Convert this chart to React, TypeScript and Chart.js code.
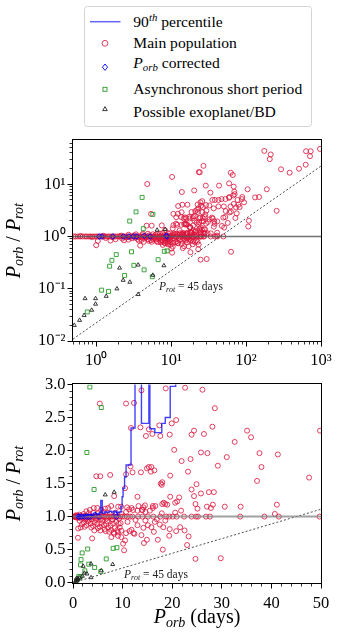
import React, { useEffect, useRef } from 'react';
import { Chart, registerables } from 'chart.js';
Chart.register(...registerables);

const FONT = '"Liberation Serif", "Times New Roman", serif';

// ---------- DATA (Porb [days], Porb/Prot) ----------
const mainPopulation: [number, number][] = [
  // long period / high ratio (top panel only)
  [175, 43.4], [213, 37.1], [207, 30.2], [631, 42.8], [728, 42.8], [713, 34.4], [970, 47.4], [293, 19.3], [382, 16.6], [509, 19.8], [625, 23.6],
  [27, 22.5], [24.1, 16.9], [62.5, 16.6], [66.5, 15.0], [20.3, 7.6], [29, 9.4], [43.6, 9.4], [59.3, 10.4], [68.5, 9.0], [105, 8.0], [189, 8.0],
  [33.4, 6.9], [69.6, 7.2], [70.5, 6.45], [67.5, 6.1], [60, 5.7], [89, 5.7], [88, 5.2], [77, 5.0], [132, 5.6], [149, 5.7], [94, 4.5],
  [35.5, 5.0], [38.4, 5.0], [42.8, 5.0], [47, 5.2], [53, 5.2], [59.3, 5.5], [68.5, 4.2], [79, 4.05], [82, 3.66], [73.6, 3.6], [62, 3.76],
  [62.8, 2.98], [60, 2.89], [53.5, 3.07], [50.5, 3.76], [42.8, 3.76], [37, 3.45], [32.4, 3.93], [29.2, 4.0], [26.5, 3.66], [25, 3.87],
  [22.6, 4.1], [24.6, 4.5], [26, 4.75], [22.2, 3.25], [256, 3.1], [109, 2.0], [107, 1.55], [52.8, 2.36], [72, 2.26], [75, 2.77], [57, 1.82],
  [51, 1.48], [63, 0.51], [29.5, 3.1], [10.3, 13.8], [4.8, 10.1], [23.4, 17.1], [13.9, 7.1], [16.5, 4.05], [14.1, 4.05], [12.4, 3.83], [21, 3.07], [23, 3.45],
  // upper scatter, Porb < 50
  [18.7, 2.94], [13.8, 2.91], [22.6, 2.95], [26.1, 2.92], [28.6, 2.64], [5.4, 2.71], [10.7, 2.71], [12.3, 2.72], [11.7, 2.34], [13.6, 2.35],
  [15.3, 2.32], [16.0, 2.25], [14.7, 2.22], [17.6, 2.22], [17.4, 2.38], [19.5, 2.24], [19.9, 2.41], [20.8, 2.46], [24.4, 2.30], [23.9, 2.24],
  [26.4, 2.25], [28.1, 2.36], [35.1, 2.30], [35.9, 2.20], [49.8, 2.30], [32.6, 2.13], [20.4, 2.01], [21.9, 1.84], [23.7, 1.87], [25.8, 1.97],
  [27.1, 1.96], [31.0, 1.90], [29.2, 1.77], [37.6, 1.96], [41.3, 1.94], [38.0, 1.75], [37.1, 1.54], [47.6, 1.59], [23.2, 1.68], [19.6, 1.62],
  [11.6, 1.76], [12.0, 1.67], [13.7, 1.67], [14.9, 1.73], [15.3, 1.75], [15.8, 1.75], [16.4, 1.70], [15.7, 1.68], [10.7, 1.64], [4.7, 1.61],
  [5.5, 1.61], [7.5, 1.63], [10.5, 1.43], [17.7, 1.50], [18.0, 1.52], [17.9, 1.48], [13.0, 1.30], [19.6, 1.30], [21.4, 1.29], [21.0, 1.23],
  [24.7, 1.19], [24.4, 1.31], [24.9, 1.49], [23.9, 1.41], [25.8, 1.35], [27.4, 1.37], [28.4, 1.37], [8.3, 1.31], [27.0, 1.15], [27.8, 1.13],
  [28.2, 1.18], [30.6, 1.15], [33.8, 1.15], [41.1, 1.18], [18.0, 1.19], [18.6, 1.19], [16.1, 1.16], [16.1, 1.13], [14.0, 1.10], [14.5, 1.17],
  [17.9, 1.05], [20.6, 1.06], [21.8, 1.09], [25.1, 1.12], [40.7, 1.04], [16.6, 1.16], [18.3, 1.21], [19.0, 1.18], [20.6, 1.21], [10.9, 1.14],
  [11.3, 1.11], [11.8, 1.13], [10.7, 1.07], [12.1, 1.10], [13.0, 1.09], [13.9, 1.10], [14.6, 1.07], [15.5, 1.09], [13.2, 1.16], [14.2, 1.14],
  [9.1, 1.15], [9.7, 1.15], [7.1, 1.13], [7.7, 1.16], [6.5, 1.12], [5.7, 1.10], [4.9, 1.13], [4.2, 1.13], [3.4, 1.10], [2.7, 1.08],
  // synchronised band
  [0.27, 1], [0.33, 1], [0.38, 1], [0.44, 1], [0.5, 1], [0.53, 1.0], [0.57, 1], [0.61, 1], [0.66, 1], [0.71, 1], [0.75, 1], [0.8, 1],
  [0.84, 1], [0.9, 1], [0.96, 1], [1.02, 1], [1.07, 1], [1.14, 1], [1.21, 1], [1.27, 1], [1.35, 1], [1.44, 1], [1.52, 1], [1.61, 1],
  [1.7, 1], [1.79, 1], [1.91, 1], [2.02, 1], [2.12, 1], [2.26, 1], [2.38, 1], [2.51, 1], [2.64, 1], [2.81, 1], [2.95, 1], [3.12, 1],
  [3.31, 1], [3.47, 1], [3.67, 1], [3.84, 1], [4.06, 1], [4.25, 1], [4.49, 1], [4.71, 1], [4.94, 1], [5.21, 1], [5.45, 1], [5.74, 1],
  [6.02, 1], [6.28, 1], [6.61, 1], [6.93, 1], [7.24, 1], [7.62, 1], [7.94, 1], [8.31, 1], [8.72, 1], [9.08, 1], [9.52, 1], [9.93, 1],
  [10.4, 1], [10.9, 1], [11.5, 1], [12.0, 1], [13.1, 1], [14.0, 1], [15.1, 1], [16.2, 1], [17.6, 1], [18.8, 1], [19.4, 1], [20.1, 1],
  [20.9, 1], [22.4, 1], [23.9, 1], [24.8, 1], [25.2, 1], [26.8, 1], [27.6, 1], [33.7, 1], [38.6, 1], [41.5, 1], [49.7, 1],
  [0.62, 1.02], [0.88, 0.98], [1.25, 1.03], [1.65, 0.97], [2.15, 1.04], [2.7, 0.97], [3.2, 1.05], [3.75, 0.96], [4.15, 1.06], [4.6, 0.97],
  [5.1, 1.05], [5.6, 0.96], [6.2, 1.07], [6.75, 0.97], [7.4, 1.04], [8.0, 0.96], [8.6, 1.06], [9.3, 0.97], [9.8, 1.04],
  // sub-synchronous clump
  [1.34, 0.936], [1.81, 0.886], [2.22, 0.911], [2.69, 0.871], [3.02, 0.926], [3.56, 0.896], [4.03, 0.861], [4.37, 0.911], [4.91, 0.886],
  [5.38, 0.846], [5.71, 0.901], [6.25, 0.871], [6.72, 0.886], [7.06, 0.836], [7.59, 0.861], [8.06, 0.896], [8.40, 0.826], [8.94, 0.797],
  [9.41, 0.836], [9.74, 0.786], [9.07, 0.762], [7.73, 0.797], [6.38, 0.811], [5.04, 0.826], [3.70, 0.836], [2.35, 0.846], [1.55, 0.836],
  [4.6, 0.95], [5.9, 0.94], [6.9, 0.93], [7.9, 0.95], [8.7, 0.92], [9.2, 0.89], [3.3, 0.95], [2.5, 0.96], [6.6, 0.78], [7.3, 0.77],
  [8.2, 0.76], [5.5, 0.79], [9.6, 0.90], [4.3, 0.79],
  // lower scatter
  [7.73, 0.69], [9.07, 0.71], [9.74, 0.69], [10.7, 0.75], [11.8, 0.80], [12.4, 0.74], [14.3, 0.60], [17.1, 0.65], [15.8, 0.84], [1.05, 0.82],
  [1.0, 0.68], [3.86, 0.67], [16.5, 0.92], [17.5, 0.88], [18.6, 0.94], [15.1, 0.87], [13.0, 0.87], [14.2, 0.83], [11.4, 0.78], [12.2, 0.75],
  [13.8, 0.72], [16.3, 0.77], [14.9, 0.65], [18.2, 0.84], [18.1, 0.50], [10.5, 0.64], [10.1, 0.59], [8.3, 0.74], [24.7, 0.36], [29.8, 0.37],
  [19.4, 0.71], [20.8, 0.78], [22.5, 0.79], [23.3, 0.70], [23.0, 0.57], [10.3, 0.49], [19.5, 0.81], [21.6, 0.84], [11.0, 0.92], [12.6, 0.95],
  [14.6, 0.94], [16.9, 0.96],
];

const porbCorrected: [number, number][] = [
  [1.10, 1.0], [1.19, 1.0], [1.67, 1.0], [2.31, 1.0], [2.73, 1.0], [3.14, 1.0], [3.49, 1.0], [4.4, 1.03], [5.25, 1.0], [8.6, 1.03], [8.8, 1.0],
];

const asyncShortPeriod: [number, number][] = [
  [4.1, 5.6], [3.4, 2.96], [2.8, 1.97], [5.7, 2.65], [4.25, 1.41], [1.85, 0.45], [2.96, 0.51], [1.51, 0.27], [1.62, 0.35], [3.18, 0.28],
  [2.39, 0.18], [4.36, 0.23], [6.7, 0.36], [8.1, 0.52], [8.85, 0.53], [5.6, 0.17], [1.18, 0.094], [1.46, 0.089], [0.76, 0.036],
];

const exoplanetBD: [number, number][] = [
  [6.5, 1.33], [8.3, 1.37], [2.05, 0.25], [2.29, 0.146], [2.81, 0.134], [3.63, 0.286], [5.7, 0.182], [8.0, 0.277], [1.89, 0.10],
  [1.36, 0.072], [0.98, 0.065], [0.98, 0.051], [0.71, 0.065], [0.87, 0.039], [0.69, 0.031], [0.60, 0.025], [3.63, 0.078], [0.51, 0.020],
];

const percentile90: [number, number][] = [
  [0.7, 1.0], [1.2, 1.01], [1.8, 1.01], [2.4, 1.02], [3.0, 1.03], [3.6, 1.02], [4.2, 1.04], [4.8, 1.04], [5.3, 1.06], [5.6, 1.245],
  [5.9, 1.05], [6.4, 1.07], [6.9, 1.06], [7.3, 1.08], [7.8, 1.07], [8.3, 1.08], [8.8, 1.06], [9.3, 1.07], [9.7, 1.15], [9.9, 1.3],
  [10.1, 1.43], [10.4, 1.6], [10.7, 1.78], [11.7, 2.34], [12.5, 3.6], [13.8, 2.41], [15.3, 3.6], [15.5, 2.33], [16.5, 2.27], [17.9, 2.41],
  [18.6, 2.50], [19.6, 2.97], [20.7, 3.6], [22.0, 3.6],
];

const protLineTop: [number, number][] = [[0.49, 0.0109], [1000, 22.22]];
const protLineBottom: [number, number][] = [[0, 0], [50, 1.111]];
const unityTop: [number, number][] = [[0.49, 1], [1000, 1]];
const unityBottom: [number, number][] = [[0, 1], [50, 1]];

const topXTicks = [1, 10, 100, 1000];
const topXTickLabels = ['10⁰', '10¹', '10²', '10³'];
const topYTicks = [0.01, 0.1, 1, 10];
const topYTickLabels = ['10⁻²', '10⁻¹', '10⁰', '10¹'];
const bottomXTicks = [0, 10, 20, 30, 40, 50];
const bottomXTickLabels = ['0', '10', '20', '30', '40', '50'];
const bottomYTicks = [0, 0.5, 1, 1.5, 2, 2.5, 3];
const bottomYTickLabels = ['0.0', '0.5', '1.0', '1.5', '2.0', '2.5', '3.0'];

// ---------- helpers ----------
type Seg = { t: string; it?: boolean; sub?: boolean; sup?: boolean };

function drawRich(ctx: CanvasRenderingContext2D, segs: Seg[], x: number, y: number, size: number, align: 'left' | 'center', subDrop = 0.2) {
  const parts = segs.map((s) => {
    const fs = s.sub || s.sup ? size * 0.7 : size;
    ctx.font = `${s.it ? 'italic ' : ''}${fs}px ${FONT}`;
    return { s, fs, w: ctx.measureText(s.t).width };
  });
  const total = parts.reduce((a, p) => a + p.w, 0);
  let cx = align === 'center' ? x - total / 2 : x;
  ctx.textAlign = 'left';
  ctx.textBaseline = 'alphabetic';
  for (const p of parts) {
    ctx.font = `${p.s.it ? 'italic ' : ''}${p.fs}px ${FONT}`;
    const dy = p.s.sub ? size * subDrop : p.s.sup ? -size * 0.4 : 0;
    ctx.fillText(p.s.t, cx, y + dy);
    cx += p.w;
  }
}

const logMinor = (lo: number, hi: number) => {
  const out: number[] = [];
  for (let k = -3; k <= 3; k++) for (let m = 2; m <= 9; m++) {
    const v = m * Math.pow(10, k);
    if (v >= lo && v <= hi) out.push(v);
  }
  return out;
};
const linMinor = (lo: number, hi: number, step: number) => {
  const out: number[] = [];
  for (let v = lo; v <= hi + 1e-9; v += step) out.push(v);
  return out;
};

const yTitle: Seg[] = [{ t: 'P', it: true }, { t: 'orb', it: true, sub: true }, { t: ' / ' }, { t: 'P', it: true }, { t: 'rot', it: true, sub: true }];
const xTitle: Seg[] = [{ t: 'P', it: true }, { t: 'orb', it: true, sub: true }, { t: ' (days)' }];
const noteSegs: Seg[] = [{ t: 'P', it: true }, { t: 'rot', it: true, sub: true }, { t: ' = 45 days' }];

const decorPlugin = {
  id: 'decor',
  afterDatasetsDraw(chart: any, _a: any, opts: any) {
    const { ctx, chartArea: a, scales } = chart;
    const xs = scales.x, ys = scales.y;
    ctx.save();
    ctx.strokeStyle = '#000';
    ctx.fillStyle = '#000';
    const x0 = Math.round(a.left) - 0.5, x1 = Math.round(a.right) + 0.5;
    const y0 = Math.round(a.top) - 0.5, y1 = Math.round(a.bottom) + 0.5;
    ctx.lineWidth = 1;
    ctx.strokeRect(x0, y0, x1 - x0, y1 - y0);
    const tick = (vals: number[], len: number, axis: 'x' | 'y', lw: number) => {
      ctx.lineWidth = lw;
      ctx.beginPath();
      for (const v of vals) {
        if (axis === 'x') {
          const p = Math.floor(xs.getPixelForValue(v)) + 0.5;
          ctx.moveTo(p, y1); ctx.lineTo(p, y1 + len);
        } else {
          const p = Math.floor(ys.getPixelForValue(v)) + 0.5;
          ctx.moveTo(x0, p); ctx.lineTo(x0 - len, p);
        }
      }
      ctx.stroke();
    };
    tick(opts.xMajor, 5, 'x', 1);
    tick(opts.xMinor, 3, 'x', 0.8);
    tick(opts.yMajor, 5, 'y', 1);
    tick(opts.yMinor, 3, 'y', 0.8);
    // y title (rotated)
    ctx.save();
    ctx.translate(opts.yTitleX, (a.top + a.bottom) / 2);
    ctx.rotate(-Math.PI / 2);
    drawRich(ctx, yTitle, 0, 0, 20, 'center', 0.18);
    ctx.restore();
    if (opts.xTitleY) drawRich(ctx, xTitle, (a.left + a.right) / 2, opts.xTitleY, 20, 'center', 0.2);
    // annotation
    const nx = xs.getPixelForValue(opts.note[0]);
    const ny = ys.getPixelForValue(opts.note[1]);
    ctx.fillStyle = '#222';
    drawRich(ctx, noteSegs, nx, ny, 11.5, 'left', 0.2);
    ctx.restore();
  },
};

const pts = (arr: [number, number][]) => arr.map(([x, y]) => ({ x, y }));

const pointSets = () => [
  { label: 'Main population', data: pts(mainPopulation), pointStyle: 'circle', pointRadius: 2.5, borderColor: 'rgba(220,20,60,0.9)', backgroundColor: 'rgba(0,0,0,0)', borderWidth: 0.9, order: 5, clip: 0 },
  { label: 'Porb corrected', data: pts(porbCorrected), pointStyle: 'rectRot', pointRadius: 2.8, borderColor: '#0000ff', backgroundColor: 'rgba(0,0,0,0)', borderWidth: 1, order: 4, clip: 0 },
  { label: 'Asynchronous short period', data: pts(asyncShortPeriod), pointStyle: 'rect', pointRadius: 2.8, borderColor: '#2a9a2a', backgroundColor: 'rgba(0,0,0,0)', borderWidth: 0.9, order: 3, clip: 0 },
  { label: 'Possible exoplanet/BD', data: pts(exoplanetBD), pointStyle: 'triangle', pointRadius: 2.3, borderColor: '#222', backgroundColor: 'rgba(0,0,0,0)', borderWidth: 0.9, order: 2, clip: 0 },
];

const lineSet = (label: string, data: [number, number][], color: string, width: number, dash: number[], order: number, extra: any = {}) => ({
  label, data: pts(data), showLine: true, pointRadius: 0, borderColor: color, backgroundColor: color, borderWidth: width, borderDash: dash, order, clip: 0, tension: 0, ...extra,
});

const tickFont = { family: FONT, size: 16.5 };

function axis(type: string, min: number, max: number, ticks: number[], labels: string[], fit: (s: any) => void, pad: number) {
  return {
    type, min, max,
    afterBuildTicks: (s: any) => { s.ticks = ticks.map((v) => ({ value: v })); },
    afterFit: fit,
    grid: { display: false, drawTicks: true, tickLength: 5 },
    border: { display: false },
    ticks: { font: tickFont, color: '#000', padding: pad, maxRotation: 0, autoSkip: false, callback: (_v: any, i: number) => labels[i] },
  };
}

const TOP_H = 244;
const BOT_H = 266;

const topConfig = (): any => ({
  type: 'scatter',
  data: {
    datasets: [
      ...pointSets(),
      lineSet('Porb/Prot = 1', unityTop, 'rgba(90,90,90,0.85)', 1.3, [], 1),
      lineSet('Prot = 45 days', protLineTop, 'rgba(60,60,60,0.9)', 1, [2, 2], 1),
    ],
  },
  options: {
    animation: false, responsive: false, events: [],
    layout: { padding: { top: 11, right: 18, left: 0, bottom: 0 } },
    plugins: {
      legend: { display: false }, tooltip: { enabled: false },
      decor: {
        xMajor: topXTicks, xMinor: logMinor(0.49, 1000), yMajor: topYTicks, yMinor: logMinor(0.01, 69),
        yTitleX: 19.5, note: [6.9, 0.0944],
      },
    },
    scales: {
      x: axis('logarithmic', 0.49, 1000, topXTicks, topXTickLabels, (s) => { s.height = TOP_H - 213; }, 5),
      y: axis('logarithmic', 0.01, 69, topYTicks, topYTickLabels, (s) => { s.width = 73; }, 2.5),
    },
  },
  plugins: [decorPlugin],
});

const bottomConfig = (): any => ({
  type: 'scatter',
  data: {
    datasets: [
      ...pointSets(),
      lineSet('Porb/Prot = 1', unityBottom, 'rgba(130,130,130,0.75)', 2, [], 1),
      lineSet('Prot = 45 days', protLineBottom, 'rgba(60,60,60,0.9)', 1, [2, 2], 1),
      lineSet('90th percentile', percentile90, 'rgba(0,0,255,0.75)', 1.4, [], 0, { stepped: true }),
    ],
  },
  options: {
    animation: false, responsive: false, events: [],
    layout: { padding: { top: 9.7, right: 18, left: 0, bottom: 0 } },
    plugins: {
      legend: { display: false }, tooltip: { enabled: false },
      decor: {
        xMajor: bottomXTicks, xMinor: linMinor(0, 50, 2), yMajor: bottomYTicks, yMinor: linMinor(0, 3, 0.1),
        yTitleX: 19.5, xTitleY: 251, note: [10.3, 0.07],
      },
    },
    scales: {
      x: axis('linear', 0, 50, bottomXTicks, bottomXTickLabels, (s) => { s.height = BOT_H - 210.7; }, 6),
      y: axis('linear', 0, 3, bottomYTicks, bottomYTickLabels, (s) => { s.width = 73; }, 2.5),
    },
  },
  plugins: [decorPlugin],
});

function ChartBox({ config, top, height }: { config: () => any; top: number; height: number }) {
  const ref = useRef<HTMLCanvasElement>(null);
  useEffect(() => {
    const chart = new Chart(ref.current as HTMLCanvasElement, config());
    return () => chart.destroy();
  }, []);
  return (
    <canvas ref={ref} width={339} height={height}
      style={{ position: 'absolute', left: 0, top, width: 339, height, display: 'block' }} />
  );
}

function Legend() {
  const tx = 133.3;
  const fam = 'Liberation Serif, Times New Roman, serif';
  return (
    <svg width={339} height={130} style={{ position: 'absolute', left: 0, top: 0, fontFamily: fam }}>
      <rect x={84.5} y={6.5} width={227} height={120} rx={3} fill="#fff" stroke="#d4d4d4" strokeWidth={1} />
      <line x1={90} y1={21.7} x2={120.5} y2={21.7} stroke="rgba(0,0,255,0.6)" strokeWidth={1.5} />
      <circle cx={105} cy={43.3} r={2.9} fill="none" stroke="rgba(220,20,60,0.9)" strokeWidth={0.9} />
      <polygon points="105,64 107.6,67.2 105,70.4 102.4,67.2" fill="none" stroke="#0000ff" strokeWidth={0.9} />
      <rect x={103} y={87.3} width={4} height={4} fill="none" stroke="#2a9a2a" strokeWidth={0.9} />
      <polygon points="105,106.6 107.3,110.6 102.7,110.6" fill="none" stroke="#222" strokeWidth={0.9} />
      <g fontFamily={fam} fontSize={15.6} fill="#000">
        <text x={tx} y={26.7}>90<tspan dy={-6} fontSize={10.8} fontStyle="italic">th</tspan><tspan dy={6}> percentile</tspan></text>
        <text x={tx} y={48.3}>Main population</text>
        <text x={tx} y={68.3}><tspan fontStyle="italic">P</tspan><tspan dy={3} fontSize={10.8} fontStyle="italic">orb</tspan><tspan dy={-3}> corrected</tspan></text>
        <text x={tx} y={94}>Asynchronous short period</text>
        <text x={tx} y={116.7}>Possible exoplanet/BD</text>
      </g>
    </svg>
  );
}

export default function App() {
  return (
    <div style={{ position: 'absolute', left: 0, top: 0, width: 339, height: 638, background: '#fff', overflow: 'hidden' }}>
      <Legend />
      <ChartBox config={topConfig} top={128} height={TOP_H} />
      <ChartBox config={bottomConfig} top={372} height={BOT_H} />
    </div>
  );
}
